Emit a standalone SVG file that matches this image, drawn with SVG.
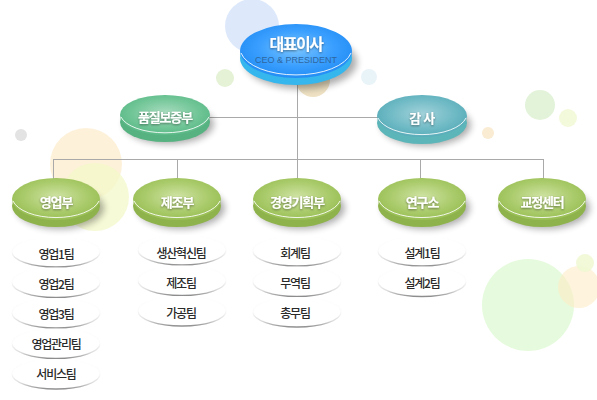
<svg xmlns="http://www.w3.org/2000/svg" width="597" height="400" viewBox="0 0 597 400">
<defs>
  <radialGradient id="gBlue" cx="50%" cy="45%" r="60%">
    <stop offset="0" stop-color="#7cc6ff"/>
    <stop offset="0.55" stop-color="#3a9fff"/>
    <stop offset="1" stop-color="#1f8af2"/>
  </radialGradient>
  <radialGradient id="gGreen" cx="50%" cy="45%" r="60%">
    <stop offset="0" stop-color="#a9dcbf"/>
    <stop offset="0.6" stop-color="#72c698"/>
    <stop offset="1" stop-color="#55b683"/>
  </radialGradient>
  <radialGradient id="gTeal" cx="50%" cy="45%" r="60%">
    <stop offset="0" stop-color="#a2d2da"/>
    <stop offset="0.6" stop-color="#6fbac5"/>
    <stop offset="1" stop-color="#52a9b6"/>
  </radialGradient>
  <radialGradient id="gOlive" cx="50%" cy="45%" r="60%">
    <stop offset="0" stop-color="#cfe3a4"/>
    <stop offset="0.6" stop-color="#aacb6b"/>
    <stop offset="1" stop-color="#94bb4f"/>
  </radialGradient>
  <linearGradient id="pillStroke" x1="0" y1="0" x2="0" y2="1">
    <stop offset="0" stop-color="#999" stop-opacity="0"/>
    <stop offset="0.5" stop-color="#999" stop-opacity="0.04"/>
    <stop offset="0.8" stop-color="#999" stop-opacity="0.35"/>
    <stop offset="1" stop-color="#808080" stop-opacity="0.9"/>
  </linearGradient>
  <filter id="shadow" x="-30%" y="-40%" width="160%" height="200%">
    <feGaussianBlur stdDeviation="3.5"/>
  </filter>
  <filter id="soft" x="-10%" y="-20%" width="120%" height="140%">
    <feGaussianBlur stdDeviation="0.4"/>
  </filter>
  <filter id="txtShadow" x="-20%" y="-40%" width="140%" height="180%">
    <feDropShadow dx="0" dy="1" stdDeviation="1" flood-color="#000" flood-opacity="0.45"/>
  </filter>
  <style>
    .deco { stroke: none; }
    .line { stroke: #a9a9a9; stroke-width: 1; fill: none; }
    .shd { fill: #000; opacity: 0.32; filter: url(#shadow); }
    .hl { fill: none; stroke: #ffffff; stroke-width: 1; opacity: 0.85; }
    .lbl { font-family: "Noto Sans CJK KR", "Noto Sans", sans-serif; font-weight: bold; fill: #ffffff; text-anchor: middle; dominant-baseline: central; filter: url(#txtShadow); }
    .pill { fill: #ffffff; stroke: url(#pillStroke); stroke-width: 1.3; filter: url(#soft); }
    .team { font-family: "Noto Sans CJK KR", "Noto Sans", sans-serif; font-size: 12px; font-weight: 500; letter-spacing: -1.2px; fill: #2a2a2a; text-anchor: middle; dominant-baseline: central; }
  </style>
</defs>
<rect width="597" height="400" fill="#ffffff"/>

<!-- decorative circles -->
<g id="decoration">
  <circle class="deco" cx="252" cy="26" r="27" fill="#dde9fb"/>
  <circle class="deco" cx="313" cy="80" r="17" fill="#efe2c4"/>
  <circle class="deco" cx="225" cy="78" r="9" fill="#e5f2d6"/>
  <circle class="deco" cx="369" cy="77" r="8" fill="#e9f4f9"/>
  <circle class="deco" cx="21" cy="135" r="6" fill="#e3e3e3"/>
  <circle class="deco" cx="86" cy="164" r="36" fill="#fdf0d6" opacity="0.9"/>
  <circle class="deco" cx="95" cy="197" r="34" fill="#f3f8c8" opacity="0.75"/>
  <circle class="deco" cx="488" cy="133" r="6" fill="#faebd3"/>
  <circle class="deco" cx="540" cy="105" r="15" fill="#e3f3da"/>
  <circle class="deco" cx="568" cy="118" r="9" fill="#f3fadb"/>
  <circle class="deco" cx="528" cy="305" r="46" fill="#e6fbdd"/>
  <circle class="deco" cx="579" cy="287" r="21" fill="#fdebc4" opacity="0.6"/>
  <circle class="deco" cx="585" cy="263" r="9" fill="#eef8d2" opacity="0.85"/>
</g>

<!-- connectors -->
<g id="connectors">
  <line class="line" x1="297.5" y1="80" x2="297.5" y2="182"/>
  <line class="line" x1="205" y1="117.5" x2="382" y2="117.5"/>
  <line class="line" x1="53.5" y1="159.5" x2="543.5" y2="159.5"/>
  <line class="line" x1="53.5" y1="159" x2="53.5" y2="182"/>
  <line class="line" x1="177.5" y1="159" x2="177.5" y2="182"/>
  <line class="line" x1="420.5" y1="159" x2="420.5" y2="182"/>
  <line class="line" x1="543.5" y1="159" x2="543.5" y2="182"/>
</g>

<!-- CEO -->
<g id="ceo">
  <ellipse class="shd" cx="301" cy="62" rx="56" ry="27"/>
  <ellipse cx="296" cy="58" rx="56" ry="27" fill="#35b6ec"/>
  <ellipse cx="296" cy="51" rx="56" ry="27" fill="url(#gBlue)"/>
  <path class="hl" d="M241,53 A56,27 0 0 0 351,53"/>
  <text class="lbl" x="296" y="43" font-size="16" letter-spacing="-1.5">대표이사</text>
  <text x="296" y="60" font-family="Liberation Sans, Arial, sans-serif" font-size="9" fill="#2f67a0" text-anchor="middle" dominant-baseline="central">CEO &amp; PRESIDENT</text>
</g>

<!-- 품질보증부 -->
<g id="quality">
  <ellipse class="shd" cx="169" cy="124" rx="45" ry="20"/>
  <ellipse cx="165" cy="122" rx="45" ry="20" fill="#57b282"/>
  <ellipse cx="165" cy="115" rx="45" ry="20" fill="url(#gGreen)"/>
  <path class="hl" d="M121,117 A45,20 0 0 0 209,117"/>
  <text class="lbl" x="165" y="116" font-size="13" letter-spacing="-1.2">품질보증부</text>
</g>

<!-- 감사 -->
<g id="audit">
  <ellipse class="shd" cx="426" cy="125" rx="45" ry="21"/>
  <ellipse cx="422" cy="123" rx="45" ry="21" fill="#5cb5b8"/>
  <ellipse cx="422" cy="116" rx="45" ry="21" fill="url(#gTeal)"/>
  <path class="hl" d="M378,118 A45,21 0 0 0 466,118"/>
  <text class="lbl" x="422" y="117" font-size="13" letter-spacing="-0.5">감 사</text>
</g>

<!-- departments -->
<g id="dept-sales">
  <ellipse class="shd" cx="60" cy="208" rx="44" ry="21"/>
  <ellipse cx="56" cy="206" rx="44" ry="21" fill="#8fb34c"/>
  <ellipse cx="56" cy="199" rx="44" ry="21" fill="url(#gOlive)"/>
  <path class="hl" d="M13,201 A44,21 0 0 0 99,201"/>
  <text class="lbl" x="56" y="201" font-size="13" letter-spacing="-1.2">영업부</text>
</g>
<g id="dept-manufacturing">
  <ellipse class="shd" cx="181" cy="208" rx="44" ry="21"/>
  <ellipse cx="177" cy="206" rx="44" ry="21" fill="#8fb34c"/>
  <ellipse cx="177" cy="199" rx="44" ry="21" fill="url(#gOlive)"/>
  <path class="hl" d="M134,201 A44,21 0 0 0 220,201"/>
  <text class="lbl" x="177" y="201" font-size="13" letter-spacing="-1.2">제조부</text>
</g>
<g id="dept-planning">
  <ellipse class="shd" cx="301" cy="208" rx="44" ry="21"/>
  <ellipse cx="297" cy="206" rx="44" ry="21" fill="#8fb34c"/>
  <ellipse cx="297" cy="199" rx="44" ry="21" fill="url(#gOlive)"/>
  <path class="hl" d="M254,201 A44,21 0 0 0 340,201"/>
  <text class="lbl" x="297" y="201" font-size="13" letter-spacing="-1.2">경영기획부</text>
</g>
<g id="dept-research">
  <ellipse class="shd" cx="426" cy="208" rx="44" ry="21"/>
  <ellipse cx="422" cy="206" rx="44" ry="21" fill="#8fb34c"/>
  <ellipse cx="422" cy="199" rx="44" ry="21" fill="url(#gOlive)"/>
  <path class="hl" d="M379,201 A44,21 0 0 0 465,201"/>
  <text class="lbl" x="422" y="201" font-size="13" letter-spacing="-1.2">연구소</text>
</g>
<g id="dept-calibration">
  <ellipse class="shd" cx="546" cy="208" rx="44" ry="21"/>
  <ellipse cx="542" cy="206" rx="44" ry="21" fill="#8fb34c"/>
  <ellipse cx="542" cy="199" rx="44" ry="21" fill="url(#gOlive)"/>
  <path class="hl" d="M499,201 A44,21 0 0 0 585,201"/>
  <text class="lbl" x="542" y="201" font-size="13" letter-spacing="-1.2">교정센터</text>
</g>

<!-- teams -->
<g id="teams-sales">
  <ellipse class="pill" cx="56" cy="252" rx="44" ry="15"/>
  <text class="team" x="56" y="253">영업1팀</text>
  <ellipse class="pill" cx="56" cy="282.5" rx="44" ry="15"/>
  <text class="team" x="56" y="283.5">영업2팀</text>
  <ellipse class="pill" cx="56" cy="313" rx="44" ry="15"/>
  <text class="team" x="56" y="313">영업3팀</text>
  <ellipse class="pill" cx="56" cy="343.5" rx="44" ry="15"/>
  <text class="team" x="56" y="343.5">영업관리팀</text>
  <ellipse class="pill" cx="56" cy="374" rx="44" ry="15"/>
  <text class="team" x="56" y="373.5">서비스팀</text>
</g>
<g id="teams-manufacturing">
  <ellipse class="pill" cx="182" cy="250" rx="44" ry="15"/>
  <text class="team" x="181" y="252">생산혁신팀</text>
  <ellipse class="pill" cx="182" cy="280.5" rx="44" ry="15"/>
  <text class="team" x="181" y="282">제조팀</text>
  <ellipse class="pill" cx="182" cy="311" rx="44" ry="15"/>
  <text class="team" x="181" y="312">가공팀</text>
</g>
<g id="teams-planning">
  <ellipse class="pill" cx="297" cy="251" rx="44" ry="15"/>
  <text class="team" x="295" y="252">회계팀</text>
  <ellipse class="pill" cx="297" cy="281.5" rx="44" ry="15"/>
  <text class="team" x="295" y="282">무역팀</text>
  <ellipse class="pill" cx="297" cy="312" rx="44" ry="15"/>
  <text class="team" x="295" y="312">총무팀</text>
</g>
<g id="teams-research">
  <ellipse class="pill" cx="422" cy="251" rx="44" ry="15"/>
  <text class="team" x="422" y="252">설계1팀</text>
  <ellipse class="pill" cx="422" cy="281.5" rx="44" ry="15"/>
  <text class="team" x="422" y="282">설계2팀</text>
</g>
</svg>
